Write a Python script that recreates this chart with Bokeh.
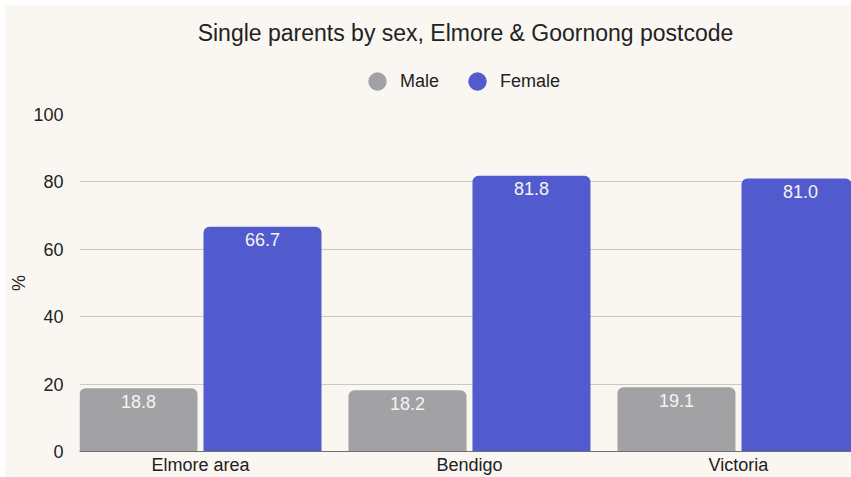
from bokeh.plotting import figure
from bokeh.layouts import column
from bokeh.models import ColumnDataSource, Range1d, FixedTicker, Legend, LegendItem
from bokeh.transform import dodge
from bokeh.embed import file_html
from bokeh.resources import INLINE
from bokeh.core.properties import value

# ---- data ----
categories = ["Elmore area", "Bendigo", "Victoria"]
male = [18.8, 18.2, 19.1]
female = [66.7, 81.8, 81.0]
series = ["Male", "Female"]
y_ticks = [0, 20, 40, 60, 80, 100]
title_text = "Single parents by sex, Elmore & Goornong postcode"

# ---- style ----
BG = "#faf7f2"
MALE_C = "#a2a2a4"
FEMALE_C = "#525bcd"
FONT = "Liberation Sans"
TXT = "#222222"
OFF = 0.2305
BW = 0.4387
W = 846
HEADER_H = 99
MAIN_H = 373

idx = list(range(len(categories)))
src = ColumnDataSource(dict(
    x=idx, male=male, female=female,
    male_lbl=[f"{v:.1f}" for v in male],
    female_lbl=[f"{v:.1f}" for v in female],
))

# ---------- header: title + legend ----------
hdr = figure(width=W, height=HEADER_H, output_backend="svg", toolbar_location=None,
             x_axis_location=None, y_axis_location=None,
             min_border_left=74, min_border_right=0, min_border_top=45,
             min_border_bottom=0)
hdr.background_fill_alpha = 0
hdr.border_fill_color = BG
hdr.outline_line_color = None
hdr.grid.visible = False
hdr.title.text = title_text
hdr.title.align = "center"
hdr.title.offset = 4
hdr.title.text_font = FONT
hdr.title.text_font_size = "23px"
hdr.title.text_font_style = "normal"
hdr.title.text_color = TXT

lm = hdr.scatter(x="x", y="male", source=src, marker="circle",
                 fill_color=MALE_C, line_color=None, visible=False)
lf = hdr.scatter(x="x", y="female", source=src, marker="circle",
                 fill_color=FEMALE_C, line_color=None, visible=False)
legend = Legend(items=[LegendItem(label=series[0], renderers=[lm]),
                       LegendItem(label=series[1], renderers=[lf])],
                orientation="horizontal", location=(275, 0),
                glyph_width=46, glyph_height=46, label_standoff=0, spacing=15,
                padding=0, margin=0, border_line_color=None,
                background_fill_alpha=0,
                label_text_font=FONT, label_text_font_size="18px",
                label_text_color=TXT)
hdr.add_layout(legend)

# ---------- main chart ----------
p = figure(width=W, height=MAIN_H, output_backend="svg", toolbar_location=None,
           x_range=Range1d(-0.4498, 2.4202), y_range=Range1d(0, 100),
           min_border_left=74, min_border_right=0, min_border_top=10,
           min_border_bottom=0)
p.background_fill_color = BG
p.border_fill_color = BG
p.outline_line_color = None

p.vbar(x=dodge("x", -OFF), top="male", width=BW, source=src,
       fill_color=MALE_C, line_color=None, border_radius=(6, 6, 0, 0))
p.vbar(x=dodge("x", OFF), top="female", width=BW, source=src,
       fill_color=FEMALE_C, line_color=None, border_radius=(6, 6, 0, 0))

for off, col, lbl in [(-OFF, "male", "male_lbl"), (OFF, "female", "female_lbl")]:
    p.text(x=dodge("x", off), y=col, text=lbl, source=src,
           text_align="center", text_baseline="alphabetic", y_offset=13,
           text_color="#f4f4f4", text_font=value(FONT), text_font_size="18px")

p.xaxis.ticker = FixedTicker(ticks=idx)
p.xaxis.major_label_overrides = {i: c for i, c in zip(idx, categories)}
p.xaxis.axis_line_color = "#707070"
p.xaxis.major_tick_line_color = None
p.xaxis.major_tick_out = 0
p.xaxis.major_tick_in = 0
p.xaxis.minor_tick_line_color = None
p.xaxis.major_label_text_font = FONT
p.xaxis.major_label_text_font_size = "18px"
p.xaxis.major_label_text_color = TXT
p.xaxis.major_label_standoff = 3

p.yaxis.ticker = FixedTicker(ticks=y_ticks)
p.yaxis.axis_line_color = None
p.yaxis.major_tick_line_color = None
p.yaxis.major_tick_out = 0
p.yaxis.major_tick_in = 0
p.yaxis.minor_tick_line_color = None
p.yaxis.major_label_text_font = FONT
p.yaxis.major_label_text_font_size = "18px"
p.yaxis.major_label_text_color = TXT
p.yaxis.major_label_standoff = 16
p.yaxis.axis_label = "%"
p.yaxis.axis_label_text_font = FONT
p.yaxis.axis_label_text_font_size = "18px"
p.yaxis.axis_label_text_font_style = "normal"
p.yaxis.axis_label_text_color = TXT
p.yaxis.axis_label_standoff = 1

p.xgrid.grid_line_color = None
p.ygrid.grid_line_color = "#cdc9c2"
p.ygrid.grid_line_width = 1

layout = column(hdr, p, spacing=0, margin=(5, 0, 0, 5),
                styles={"background-color": BG})
open("out.html", "w").write(file_html(layout, INLINE))
